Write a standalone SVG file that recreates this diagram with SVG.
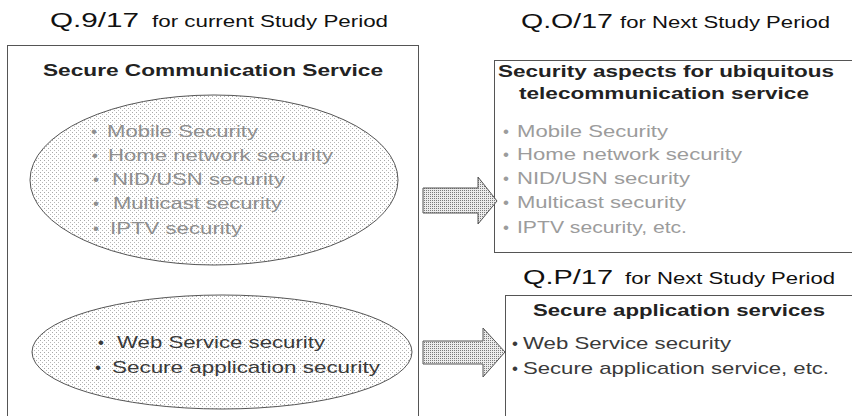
<svg xmlns="http://www.w3.org/2000/svg" width="852" height="416" viewBox="0 0 852 416">
  <defs>
    <!-- halftone fills -->
    <pattern id="dotsLight" width="4" height="4" patternUnits="userSpaceOnUse">
      <rect width="4" height="4" fill="#ffffff"/>
      <rect x="0" y="0" width="1" height="1" fill="#a8a8a8"/>
      <rect x="2" y="2" width="1" height="1" fill="#b8b8b8"/>
    </pattern>
    <pattern id="dotsDense" width="2" height="2" patternUnits="userSpaceOnUse">
      <rect width="2" height="2" fill="#ececec"/>
      <rect x="0" y="0" width="1" height="1" fill="#7a7a7a"/>
    </pattern>
    <style>
      text { font-family: "Liberation Sans", Arial, sans-serif; }
      .q { font-size: 21px; fill: #111; }
      .period { font-size: 16px; fill: #111; }
      .head { font-size: 17px; font-weight: bold; fill: #222; }
      .item { font-size: 17px; }
      .faint { fill: #8e8e8e; }
      .pale { fill: #9c9c9c; }
      .dark { fill: #3a3a3a; }
      .frame { fill: #ffffff; stroke: #555; stroke-width: 1; }
      .oval { fill: url(#dotsLight); stroke: #555; stroke-width: 1; }
      .arrow { fill: url(#dotsDense); stroke: #555; stroke-width: 1; }
    </style>
  </defs>

  <rect width="852" height="416" fill="#ffffff"/>

  <!-- current study period -->
  <g id="current-question">
    <text class="q" x="50" y="27" textLength="89" lengthAdjust="spacingAndGlyphs">Q.9/17</text>
    <text class="period" x="152" y="27" textLength="236" lengthAdjust="spacingAndGlyphs">for current Study Period</text>
    <rect class="frame" x="7.5" y="45.5" width="411" height="400"/>
    <text class="head" x="43" y="76" textLength="340" lengthAdjust="spacingAndGlyphs">Secure Communication Service</text>
  </g>

  <g id="ubiquitous-group">
    <ellipse class="oval" cx="214" cy="180" rx="184" ry="85"/>
    <g class="item faint">
      <text x="91" y="137">•</text>
      <text x="107" y="137" textLength="151" lengthAdjust="spacingAndGlyphs">Mobile Security</text>
      <text x="92" y="161">•</text>
      <text x="108" y="161" textLength="225" lengthAdjust="spacingAndGlyphs">Home network security</text>
      <text x="93" y="185">•</text>
      <text x="112" y="185" textLength="173" lengthAdjust="spacingAndGlyphs">NID/USN security</text>
      <text x="93" y="209">•</text>
      <text x="113" y="209" textLength="169" lengthAdjust="spacingAndGlyphs">Multicast security</text>
      <text x="93" y="234">•</text>
      <text x="110" y="234" textLength="132" lengthAdjust="spacingAndGlyphs">IPTV security</text>
    </g>
  </g>

  <g id="application-group">
    <ellipse class="oval" cx="222" cy="352" rx="190" ry="57"/>
    <g class="item dark">
      <text x="98" y="348">•</text>
      <text x="117" y="348" textLength="208" lengthAdjust="spacingAndGlyphs">Web Service security</text>
      <text x="95" y="373">•</text>
      <text x="112" y="373" textLength="268" lengthAdjust="spacingAndGlyphs">Secure application security</text>
    </g>
  </g>

  <!-- next study period: Q.O/17 -->
  <g id="question-o">
    <text class="q" x="521" y="28" textLength="92" lengthAdjust="spacingAndGlyphs">Q.O/17</text>
    <text class="period" x="620" y="28" textLength="210" lengthAdjust="spacingAndGlyphs">for Next Study Period</text>
    <rect class="frame" x="494.5" y="60.5" width="400" height="192"/>
    <text class="head" x="498" y="77" textLength="336" lengthAdjust="spacingAndGlyphs">Security aspects for ubiquitous</text>
    <text class="head" x="519" y="99" textLength="290" lengthAdjust="spacingAndGlyphs">telecommunication service</text>
    <g class="item pale">
      <text x="503" y="137">•</text>
      <text x="517" y="137" textLength="151" lengthAdjust="spacingAndGlyphs">Mobile Security</text>
      <text x="503" y="160">•</text>
      <text x="517" y="160" textLength="225" lengthAdjust="spacingAndGlyphs">Home network security</text>
      <text x="503" y="184">•</text>
      <text x="517" y="184" textLength="173" lengthAdjust="spacingAndGlyphs">NID/USN security</text>
      <text x="503" y="208">•</text>
      <text x="517" y="208" textLength="169" lengthAdjust="spacingAndGlyphs">Multicast security</text>
      <text x="503" y="233">•</text>
      <text x="517" y="233" textLength="170" lengthAdjust="spacingAndGlyphs">IPTV security, etc.</text>
    </g>
  </g>

  <!-- next study period: Q.P/17 -->
  <g id="question-p">
    <text class="q" x="523" y="284" textLength="90" lengthAdjust="spacingAndGlyphs">Q.P/17</text>
    <text class="period" x="625" y="284" textLength="210" lengthAdjust="spacingAndGlyphs">for Next Study Period</text>
    <rect class="frame" x="505.5" y="295.5" width="400" height="200"/>
    <text class="head" x="533" y="316" textLength="292" lengthAdjust="spacingAndGlyphs">Secure application services</text>
    <g class="item dark">
      <text x="512" y="349">•</text>
      <text x="523" y="349" textLength="208" lengthAdjust="spacingAndGlyphs">Web Service security</text>
      <text x="512" y="374">•</text>
      <text x="523" y="374" textLength="306" lengthAdjust="spacingAndGlyphs">Secure application service, etc.</text>
    </g>
  </g>

  <!-- block arrows -->
  <g id="connectors">
    <path class="arrow" d="M423,188 L478,188 L478,177 L497,201 L478,224 L478,213 L423,213 Z"/>
    <path class="arrow" d="M423,341 L483,341 L483,328 L505,352 L483,377 L483,364 L423,364 Z"/>
  </g>
</svg>
